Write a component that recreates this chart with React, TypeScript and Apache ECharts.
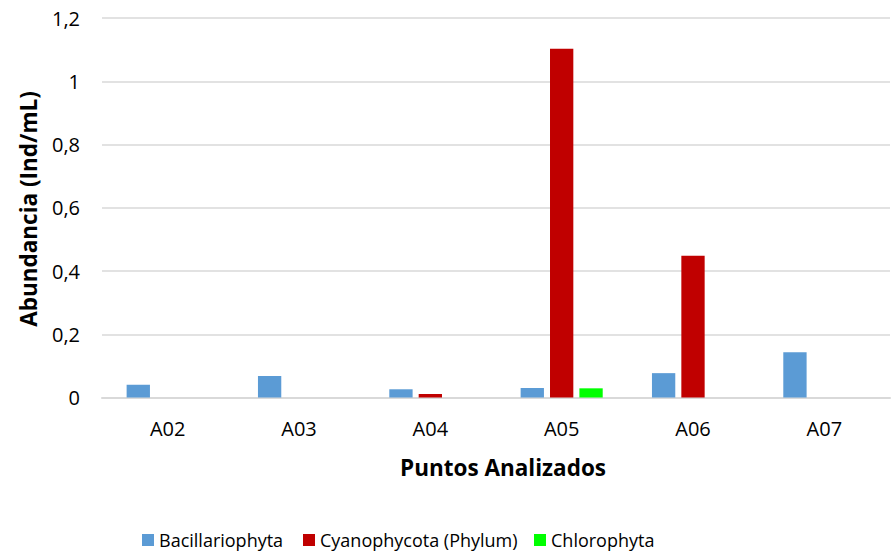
import React, { useEffect, useRef } from "react";
import * as echarts from "echarts";

const categories = ["A02", "A03", "A04", "A05", "A06", "A07"];
const bacillariophyta = [0.04, 0.068, 0.026, 0.03, 0.077, 0.143];
const cyanophycota = [0, 0, 0.011, 1.103, 0.448, 0];
const chlorophyta = [0, 0, 0, 0.029, 0, 0];
const seriesNames = ["Bacillariophyta", "Cyanophycota (Phylum)", "Chlorophyta"];
const colors = ["#5B9BD5", "#C00000", "#00FF00"];
const FONT = "'Open Sans', 'Noto Sans', sans-serif";

export default function App() {
  const ref = useRef<HTMLDivElement>(null);
  useEffect(() => {
    document.body.style.margin = "0";
    const chart = echarts.init(ref.current!, null, { renderer: "svg" });
    const legendLeft = [142, 303, 534];
    chart.setOption({
      animation: false,
      backgroundColor: "#ffffff",
      grid: { left: 102, right: 2, top: 18, bottom: 156.5, containLabel: false },
      legend: seriesNames.map((n, i) => ({
        data: [n],
        left: legendLeft[i],
        top: 531,
        padding: 0,
        itemWidth: 12,
        itemHeight: 12,
        itemGap: 6,
        icon: "rect",
        textStyle: { fontFamily: FONT, fontSize: 18, color: "#000" },
      })),
      xAxis: {
        type: "category",
        data: categories,
        axisLine: { lineStyle: { color: "#d9d9d9", width: 2 } },
        axisTick: { show: false },
        axisLabel: { fontFamily: FONT, fontSize: 20, color: "#000", margin: 21 },
      },
      yAxis: {
        type: "value",
        min: 0,
        max: 1.2,
        interval: 0.2,
        axisLine: { show: false },
        axisTick: { show: false },
        splitLine: { lineStyle: { color: "#d9d9d9", width: 1.5 } },
        axisLabel: {
          fontFamily: FONT,
          fontSize: 20,
          color: "#000",
          margin: 22,
          formatter: (v: number) => String(Math.round(v * 10) / 10).replace(".", ","),
        },
      },
      graphic: [
        {
          type: "text",
          x: 503,
          y: 467,
          style: {
            text: "Puntos Analizados",
            fontFamily: FONT,
            fontSize: 22.5,
            fontWeight: "bold",
            fill: "#000",
            align: "center",
            verticalAlign: "middle",
          },
        },
        {
          type: "text",
          x: 28,
          y: 209,
          rotation: Math.PI / 2,
          style: {
            text: "Abundancia (Ind/mL)",
            fontFamily: FONT,
            fontSize: 22.5,
            fontWeight: "bold",
            fill: "#000",
            align: "center",
            verticalAlign: "middle",
          },
        },
      ],
      series: [bacillariophyta, cyanophycota, chlorophyta].map((d, i) => ({
        name: seriesNames[i],
        type: "bar",
        data: d,
        itemStyle: { color: colors[i] },
        barGap: "26%",
        barCategoryGap: "37.5%",
      })),
    });
    return () => chart.dispose();
  }, []);
  return <div ref={ref} style={{ width: 892, height: 554 }} />;
}
